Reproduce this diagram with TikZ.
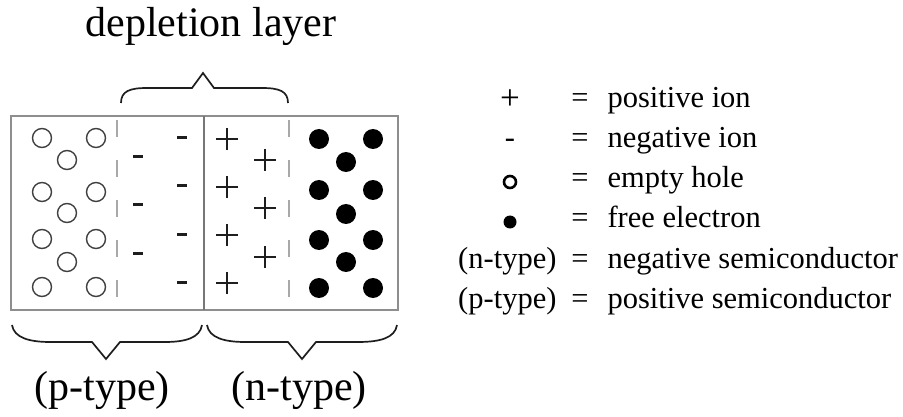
\documentclass[tikz,border=0pt]{standalone}
\usepackage{fontspec}
\setmainfont{Liberation Serif}
\definecolor{PnFrame}{HTML}{8E8E8E}
\definecolor{PnDash}{HTML}{A8A8A8}
\definecolor{PnInk}{HTML}{1E1E1E}

\begin{document}
\begin{tikzpicture}[x=1pt,y=-1pt,
    hole/.style={circle,draw=PnInk!85,line width=1.4pt,minimum size=19pt,inner sep=0pt},
    electron/.style={circle,fill=black,minimum size=20pt,inner sep=0pt},
    bracepath/.style={line width=1.7pt,PnInk,line join=miter},
    bigtext/.style={anchor=base,font=\fontsize{42}{50}\selectfont},
    legtext/.style={anchor=base west,font=\fontsize{30.5}{36}\selectfont}]
  \useasboundingbox (0,0) rectangle (903,417);

  % junction box
  \draw[PnFrame,line width=1.5pt] (11,116) rectangle (398,310);
  \draw[PnFrame!120,line width=1.3pt] (204,116) -- (204,310);
  \draw[PnDash,line width=2pt,dash pattern=on 17pt off 23pt] (117,120) -- (117,310);
  \draw[PnDash,line width=2pt,dash pattern=on 17pt off 23pt] (289,120) -- (289,310);

  % p side: holes
  \foreach \y [count=\i] in {138,192,239,287} {
    \node[hole] (hl-\i) at (42,\y) {};
    \node[hole] (hr-\i) at (96,\y) {};
  }
  \foreach \y [count=\i] in {160,213,262}
    \node[hole] (hm-\i) at (67,\y) {};

  % negative ions
  \foreach \y in {138,186,234,282}
    \draw[PnInk,line width=3pt] (177,\y) -- (187,\y);
  \foreach \y in {157,205,253}
    \draw[PnInk,line width=3pt] (133,\y) -- (143,\y);

  % positive ions
  \foreach \y in {139,187,235,283}
    \draw[PnInk,line width=1.5pt] (216,\y) -- (238,\y) (227,\y-11) -- (227,\y+11);
  \foreach \y in {160,208,257}
    \draw[PnInk,line width=1.5pt] (254,\y) -- (276,\y) (265,\y-11) -- (265,\y+11);

  % n side: electrons
  \foreach \y [count=\i] in {139,190,240,288} {
    \node[electron] (el-\i) at (319,\y) {};
    \node[electron] (er-\i) at (373,\y) {};
  }
  \foreach \y [count=\i] in {162,214,262}
    \node[electron] (em-\i) at (346,\y) {};

  % braces
  \draw[bracepath] (121,103) .. controls (121,91) and (130,88) .. (147,88)
    -- (192,88) -- (203,73) -- (214,88) -- (262,88)
    .. controls (279,88) and (288,91) .. (288,103);
  \draw[bracepath] (12,325) .. controls (14,338) and (30,342) .. (50,342)
    -- (92,342) -- (106,359) -- (120,342) -- (165,342)
    .. controls (185,342) and (200,338) .. (202,325);
  \draw[bracepath] (207,325) .. controls (209,338) and (225,342) .. (245,342)
    -- (288,342) -- (302,359) -- (316,342) -- (358,342)
    .. controls (380,342) and (395,338) .. (397,325);

  \node[bigtext] (title) at (211,37) {depletion layer};
  \node[bigtext] (ptype) at (102,400) {(p-type)};
  \node[bigtext] (ntype) at (299,400) {(n-type)};

  % legend
  \node[legtext,anchor=base,font=\fontsize{35}{40}\selectfont] (kplus) at (510,110) {+};
  \node[legtext,anchor=base] (kminus) at (510,148) {-};
  \node[circle,draw=black,line width=2.6pt,minimum size=12pt,inner sep=0pt] (khole) at (510,182) {};
  \node[circle,fill=black,minimum size=13pt,inner sep=0pt] (kelec) at (510,222) {};
  \node[legtext,anchor=base east] (kn) at (560,268) {(n-type)};
  \node[legtext,anchor=base east] (kp) at (560,308) {(p-type)};
  \foreach \y/\t [count=\i] in {108/positive ion,148/negative ion,188/empty hole,
      228/free electron,268/negative semiconductor,308/positive semiconductor} {
    \node[legtext,anchor=base] (eq-\i) at (580,\y) {=};
    \node[legtext] (lt-\i) at (604,\y) {\t};
  }
\end{tikzpicture}
\end{document}
